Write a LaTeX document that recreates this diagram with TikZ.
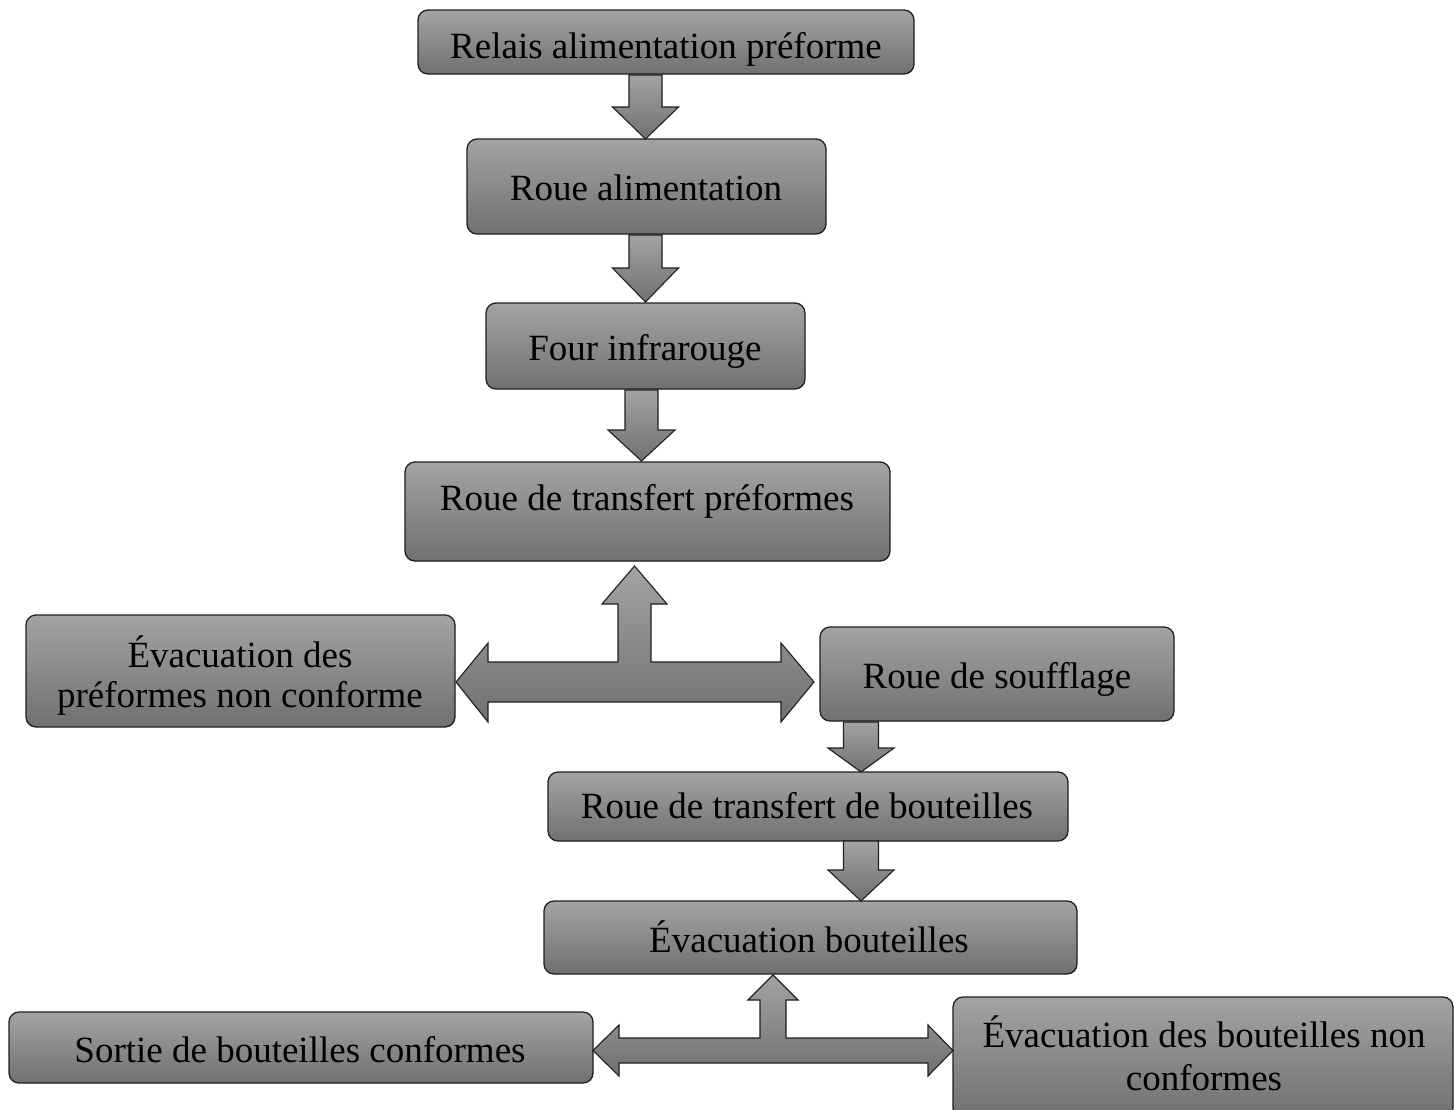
\documentclass[tikz,border=0pt]{standalone}
\usepackage{fontspec}
\setmainfont{Liberation Serif}
\begin{document}
\definecolor{shadetop}{gray}{0.64}
\definecolor{shadebot}{gray}{0.44}
\definecolor{edge}{gray}{0.12}
\tikzset{
  flowbox/.style={draw=edge, line width=1.3pt, rounded corners=10pt,
    top color=shadetop, bottom color=shadebot, inner sep=0pt},
  blockarrow/.style={draw=edge, line width=1.1pt, line join=miter,
    top color=shadetop, bottom color=shadebot},
  lbl/.style={font=\fontsize{37}{44}\selectfont, text height=0.68em,
    text depth=0.18em, inner sep=0pt, anchor=center, yshift=-10pt}
}
% box from its corners: name, x1, y1, x2, y2
\newcommand\flowbox[5]{%
  \pgfmathsetmacro\bw{#4-#2}\pgfmathsetmacro\bh{#5-#3}%
  \pgfmathsetmacro\bx{(#2+#4)/2}\pgfmathsetmacro\by{(#3+#5)/2}%
  \node[flowbox, minimum width=\bw pt, minimum height=\bh pt] (#1) at (\bx,\by) {};}
% downward block arrow: centre x, shaft half width, head half width, top, head base, tip
\newcommand\blockdown[6]{%
  \path[blockarrow] (#1-#2,#4) -- (#1+#2,#4) -- (#1+#2,#5) -- (#1+#3,#5)
    -- (#1,#6) -- (#1-#3,#5) -- (#1-#2,#5) -- cycle;}
\begin{tikzpicture}[x=1pt,y=-1pt]
\useasboundingbox (0,0) rectangle (1454,1109);

% process stations
\flowbox{b1}{418}{10}{914}{74}
\flowbox{b2}{467}{139}{826}{234}
\flowbox{b3}{486}{303}{805}{389}
\flowbox{b4}{405}{462}{890}{561}
\flowbox{b5}{26}{615}{455}{727}
\flowbox{b6}{820}{627}{1174}{721}
\flowbox{b7}{548}{772}{1068}{841}
\flowbox{b8}{544}{901}{1077}{974}
\flowbox{b9}{9}{1012}{593}{1083}
\flowbox{b10}{953}{997}{1453}{1118}

% straight flow between stations
\blockdown{645.5}{16.5}{33}{75}{107}{139}
\blockdown{645.5}{16.5}{33}{235}{268}{302}
\blockdown{641.5}{16.5}{33.5}{390}{430}{461}
\blockdown{861}{17.5}{33}{722}{748}{772}
\blockdown{861}{17.5}{33}{841}{870}{901}

% three-way junction under the preform transfer wheel
\path[blockarrow] (618,662) -- (618,604) -- (602,604) -- (634.5,566)
  -- (667,604) -- (651,604) -- (651,662) -- (781,662) -- (781,643)
  -- (814,682) -- (781,722) -- (781,702) -- (488,702) -- (488,722)
  -- (456,682) -- (488,643) -- (488,662) -- cycle;

% three-way junction under the bottle outfeed
\path[blockarrow] (760,1038) -- (760,1000) -- (748,1000) -- (773,975)
  -- (798,1000) -- (786,1000) -- (786,1038) -- (928,1038) -- (928,1025)
  -- (953,1050.5) -- (928,1076) -- (928,1063) -- (619,1063) -- (619,1076)
  -- (593,1050.5) -- (619,1025) -- (619,1038) -- cycle;

% labels
\node[lbl] (t1) at (666,46) {Relais alimentation préforme};
\node[lbl] (t2) at (646,188) {Roue alimentation};
\node[lbl] (t3) at (645,348) {Four infrarouge};
\node[lbl] (t4) at (647,498) {Roue de transfert préformes};
\node[lbl] (t5a) at (240,655) {Évacuation des};
\node[lbl] (t5b) at (240,695) {préformes non conforme};
\node[lbl] (t6) at (997,676) {Roue de soufflage};
\node[lbl] (t7) at (807,806) {Roue de transfert de bouteilles};
\node[lbl] (t8) at (809,940) {Évacuation bouteilles};
\node[lbl] (t9) at (300,1050) {Sortie de bouteilles conformes};
\node[lbl] (t10a) at (1204,1035) {Évacuation des bouteilles non};
\node[lbl] (t10b) at (1204,1078) {conformes};
\end{tikzpicture}
\end{document}
